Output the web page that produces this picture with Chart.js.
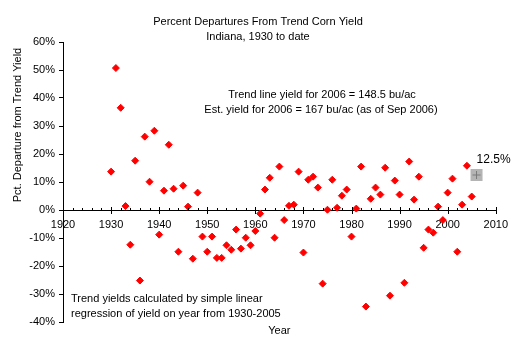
<!DOCTYPE html>
<html>
<head>
<meta charset="utf-8">
<script src="https://cdn.jsdelivr.net/npm/chart.js@4.4.0/dist/chart.umd.min.js"></script>
<style>
  html, body { margin: 0; padding: 0; background: #fff; }
  #wrap { width: 516px; height: 347px; }
</style>
</head>
<body>
<div id="wrap"><canvas id="chart" width="516" height="347"></canvas></div>
<script>
"use strict";

// Year -> % departure from linear trend yield.
const YEARS = [
  1930, 1931, 1932, 1933, 1934, 1935, 1936, 1937, 1938, 1939,
  1940, 1941, 1942, 1943, 1944, 1945, 1946, 1947, 1948, 1949,
  1950, 1951, 1952, 1953, 1954, 1955, 1956, 1957, 1958, 1959,
  1960, 1961, 1962, 1963, 1964, 1965, 1966, 1967, 1968, 1969,
  1970, 1971, 1972, 1973, 1974, 1975, 1976, 1977, 1978, 1979,
  1980, 1981, 1982, 1983, 1984, 1985, 1986, 1987, 1988, 1989,
  1990, 1991, 1992, 1993, 1994, 1995, 1996, 1997, 1998, 1999,
  2000, 2001, 2002, 2003, 2004, 2005,
];
const DEPARTURES = [
  13.7, 50.7, 36.5, 1.4, -12.4, 17.6, -25.2, 26.2, 10.1, 28.3,
  -8.8, 6.9, 23.3, 7.6, -14.9, 8.7, 1.2, -17.4, 6.2, -9.5,
  -14.9, -9.5, -17.1, -17.1, -12.6, -14.2, -7.0, -13.8, -9.9, -12.6,
  -7.5, -1.3, 7.3, 11.5, -9.9, 15.5, -3.6, 1.5, 1.9, 13.7,
  -15.2, 10.8, 11.9, 8.0, -26.3, 0.1, 10.8, 0.8, 5.1, 7.3,
  -9.5, 0.5, 15.5, -34.5, 4.0, 8.0, 5.5, 15.1, -30.6, 10.5,
  5.5, -26.0, 17.3, 3.7, 11.9, -13.5, -7.0, -8.1, 1.2, -3.6,
  6.2, 11.2, -14.9, 1.9, 15.8, 4.8,
];
// 2006 estimate
const EST_YEAR = [2006];
const EST_VALUE = [12.5];

const TITLE_LINES = ["Percent Departures From Trend Corn Yield", "Indiana, 1930 to date"];
const NOTE_TOP = ["Trend line yield for 2006 = 148.5 bu/ac", "Est. yield for 2006 = 167 bu/ac (as of Sep 2006)"];
const NOTE_BOTTOM = ["Trend yields calculated by simple linear", "regression of yield on year from 1930-2005"];
const X_TITLE = "Year";
const Y_TITLE = "Pct. Departure from Trend Yield";

const FONT_FAMILY = '"Liberation Sans", Arial, sans-serif';
const FONT = `11px ${FONT_FAMILY}`;

// Texts, the 12.5% label and the small/large tick marks on the zero axis.
const extras = {
  id: "extras",
  afterDraw(chart) {
    const { ctx } = chart;
    const x = chart.scales.x, y = chart.scales.y;
    ctx.save();
    ctx.fillStyle = "#000";
    ctx.strokeStyle = "#000";
    ctx.lineWidth = 1;
    ctx.font = FONT;
    ctx.textBaseline = "middle";

    ctx.textAlign = "center";
    ctx.fillText(TITLE_LINES[0], 258, 22);
    ctx.fillText(TITLE_LINES[1], 258, 37);
    ctx.fillText(NOTE_TOP[0], 322, 95);
    ctx.fillText(NOTE_TOP[1], 321, 110);
    ctx.fillText(X_TITLE, (x.left + x.right) / 2, 331);

    ctx.textAlign = "left";
    ctx.fillText(NOTE_BOTTOM[0], 71, 299);
    ctx.fillText(NOTE_BOTTOM[1], 71, 314);

    const ex = x.getPixelForValue(EST_YEAR[0]);
    const ey = y.getPixelForValue(EST_VALUE[0]);
    ctx.font = `12px ${FONT_FAMILY}`;
    ctx.fillText(EST_VALUE[0].toFixed(1) + "%", ex, ey - 15);
    ctx.font = FONT;

    ctx.save();
    ctx.translate(18, 125);
    ctx.rotate(-Math.PI / 2);
    ctx.textAlign = "center";
    ctx.fillText(Y_TITLE, 0, 0);
    ctx.restore();

    // tick marks on the x axis: majors every 10 yrs cross the line, minors every 2
    const y0 = Math.round(y.getPixelForValue(0)) + 0.5;
    ctx.beginPath();
    for (let yr = x.min; yr <= x.max; yr += 2) {
      const px = Math.round(x.getPixelForValue(yr)) + 0.5;
      const major = yr % 10 === 0;
      ctx.moveTo(px, y0 - (major ? 3.5 : 2.5));
      ctx.lineTo(px, y0 + (major ? 3.5 : 0));
    }
    ctx.stroke();
    ctx.restore();
  },
};

const estPoint = EST_YEAR.map((yr, i) => ({ x: yr, y: EST_VALUE[i] }));

new Chart(document.getElementById("chart"), {
  type: "scatter",
  data: {
    datasets: [
      {
        data: YEARS.map((yr, i) => ({ x: yr, y: DEPARTURES[i] })),
        pointStyle: "rectRot",
        pointRadius: 3.5,
        backgroundColor: "#ff0000",
        borderColor: "#ff0000",
        borderWidth: 1,
      },
      {
        // plus sign sits on top of the grey square
        data: estPoint,
        pointStyle: "cross",
        pointRadius: 4,
        borderColor: "#7a7a7a",
        borderWidth: 1,
      },
      {
        data: estPoint,
        pointStyle: "rect",
        pointRadius: 8.5,
        backgroundColor: "#b4b4b4",
        borderWidth: 0,
      },
    ],
  },
  options: {
    responsive: false,
    animation: false,
    layout: { padding: { top: 42, right: 9, bottom: 25, left: 0 } },
    plugins: { legend: { display: false }, tooltip: { enabled: false } },
    scales: {
      x: {
        type: "linear",
        position: { y: 0 },
        min: 1920,
        max: 2010,
        ticks: {
          stepSize: 10,
          color: "#000",
          font: { family: FONT_FAMILY, size: 11 },
          padding: 8,
          maxRotation: 0,
          callback: (v) => String(v),
        },
        grid: { display: true, drawOnChartArea: false, drawTicks: false },
        border: { color: "#000", width: 1 },
      },
      y: {
        min: -40,
        max: 60,
        ticks: {
          stepSize: 10,
          color: "#000",
          font: { family: FONT_FAMILY, size: 11 },
          padding: 4,
          callback: (v) => v + "%",
        },
        grid: { drawOnChartArea: false, drawTicks: true, tickLength: 4, color: "#000" },
        border: { color: "#000", width: 1 },
        afterFit: (s) => { s.width = 63; },
      },
    },
  },
  plugins: [extras],
});
</script>
</body>
</html>
